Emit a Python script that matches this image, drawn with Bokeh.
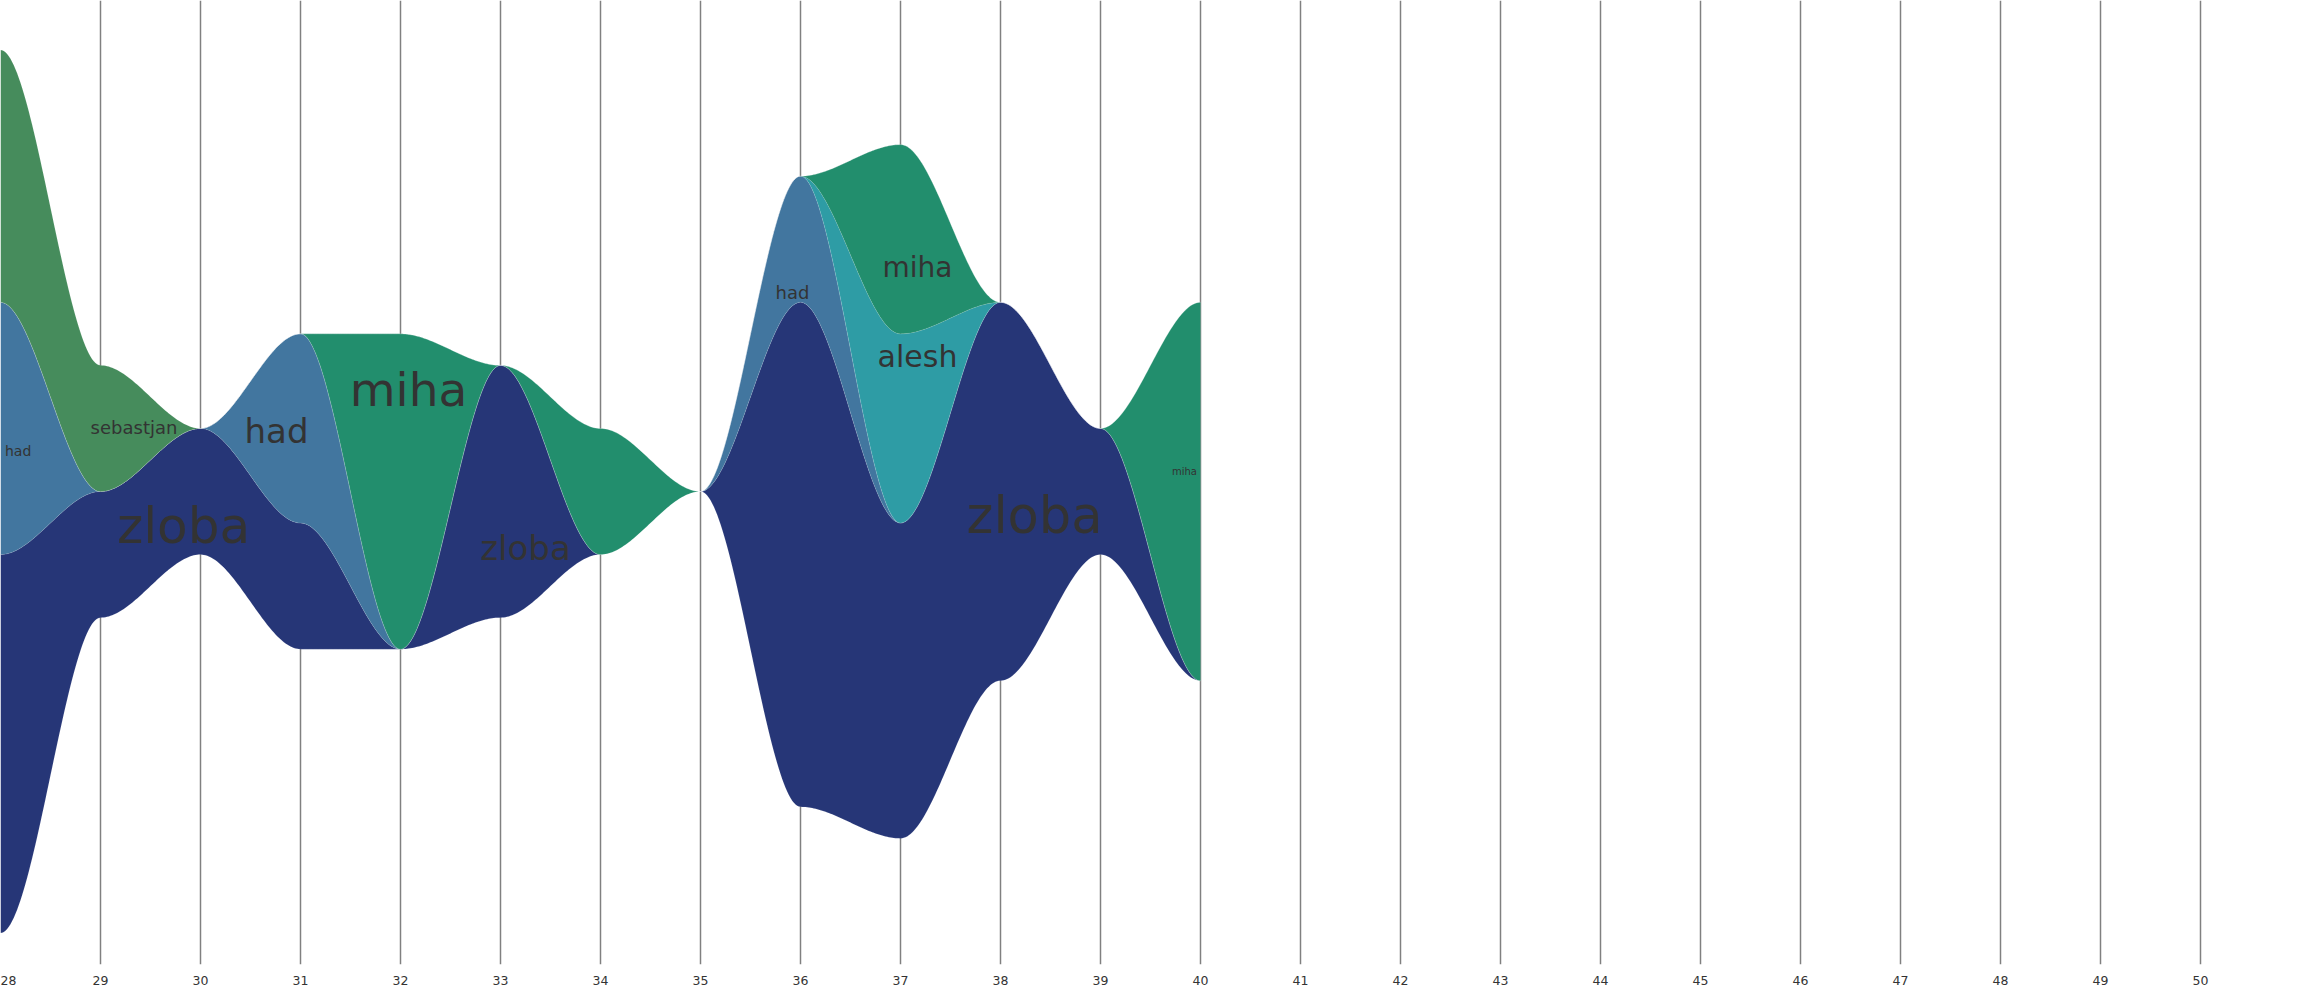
import numpy as np
from bokeh.plotting import figure
from bokeh.models import ColumnDataSource, Range1d, FixedTicker
from bokeh.embed import file_html
from bokeh.resources import INLINE
from bokeh.core.properties import value

# ---- data ----
weeks = [28, 29, 30, 31, 32, 33, 34, 35, 36, 37, 38, 39, 40]
zloba = [6, 2, 2, 2, 0, 4, 0, 0, 8, 5, 6, 2, 0]
had = [4, 0, 0, 3, 0, 0, 0, 0, 2, 0, 0, 0, 0]
alesh = [0, 0, 0, 0, 0, 0, 0, 0, 0, 3, 0, 0, 0]
miha = [0, 0, 0, 0, 5, 0, 2, 0, 0, 3, 0, 0, 6]
sebastjan = [4, 2, 0, 0, 0, 0, 0, 0, 0, 0, 0, 0, 0]

series_names = ["zloba", "had", "alesh", "miha", "sebastjan"]
series_values = [zloba, had, alesh, miha, sebastjan]
series_colors = ["#263677", "#42769F", "#2E9CA5", "#228E6D", "#468C5C"]

tick_values = list(range(28, 52))

# stream labels (placed inside the streams)
label_text = ["had", "sebastjan", "zloba", "had", "miha", "zloba", "had", "miha", "alesh", "zloba", "miha"]
label_x = [28.176, 29.335, 29.83, 30.76, 32.08, 33.25, 35.92, 37.17, 37.17, 38.34, 39.84]
label_y = [0.65, 1.015, -0.54, 0.967, 1.617, -0.888, 3.155, 3.55, 2.14, -0.38, 0.317]
label_size = ["14px", "18px", "50px", "34px", "47px", "34px", "18px", "28px", "30px", "51px", "10px"]


def smooth_curve(xs, ys, n=60):
    """Cubic curve through every point with flat tangents at the points."""
    x = np.asarray(xs, float)
    y = np.asarray(ys, float)
    ox, oy = [], []
    u = np.linspace(0, 1, n, endpoint=False)
    w = 3 * u ** 2 - 2 * u ** 3
    for i in range(len(x) - 1):
        ox.extend(x[i] + u * (x[i + 1] - x[i]))
        oy.extend(y[i] + w * (y[i + 1] - y[i]))
    ox.append(x[-1])
    oy.append(y[-1])
    return np.array(ox), np.array(oy)


vals = np.array(series_values, float)
total = vals.sum(axis=0)
base = -total / 2.0  # silhouette offset

UNIT = 63.07  # pixels per value unit
FH = 964
CENTER = 491

p = figure(
    frame_width=2284, frame_height=FH,
    x_range=Range1d(28, 28 + 2284 / 100.0),
    y_range=Range1d(-(FH - CENTER) / UNIT, CENTER / UNIT),
    output_backend="svg", toolbar_location=None,
    min_border=0, min_border_left=0, min_border_right=0,
    min_border_top=0, min_border_bottom=0,
    y_axis_location=None,
)
p.outline_line_color = None
p.background_fill_color = "white"

cum = base.copy()
for name, v, col in zip(series_names, vals, series_colors):
    lo = cum.copy()
    hi = cum + v
    cx, clo = smooth_curve(weeks, lo)
    _, chi = smooth_curve(weeks, hi)
    src = ColumnDataSource(dict(xs=[np.concatenate([cx, cx[::-1]])],
                                ys=[np.concatenate([chi, clo[::-1]])]))
    p.patches("xs", "ys", source=src, fill_color=col, fill_alpha=1.0,
              line_color="white", line_alpha=0.2, line_width=0.5)
    cum = hi

lsrc = ColumnDataSource(dict(x=label_x, y=label_y, text=label_text, size=label_size))
p.text("x", "y", text="text", source=lsrc, text_font=value("DejaVu Sans"),
       text_font_size="size", text_align="center", text_baseline="middle",
       text_color="#333333")

p.xaxis.ticker = FixedTicker(ticks=tick_values)
p.xaxis.axis_line_color = None
p.xaxis.major_tick_line_color = None
p.xaxis.minor_tick_line_color = None
p.xaxis.major_label_standoff = 5
p.xaxis.major_label_text_font_size = "12.5px"
p.xaxis.major_label_text_font = "DejaVu Sans"
p.xaxis.major_label_text_color = "#333333"

p.xgrid.ticker = FixedTicker(ticks=tick_values)
p.xgrid.grid_line_color = "#808080"
p.xgrid.grid_line_width = 1.5
p.ygrid.grid_line_color = None

open("out.html", "w").write(file_html(p, INLINE))
